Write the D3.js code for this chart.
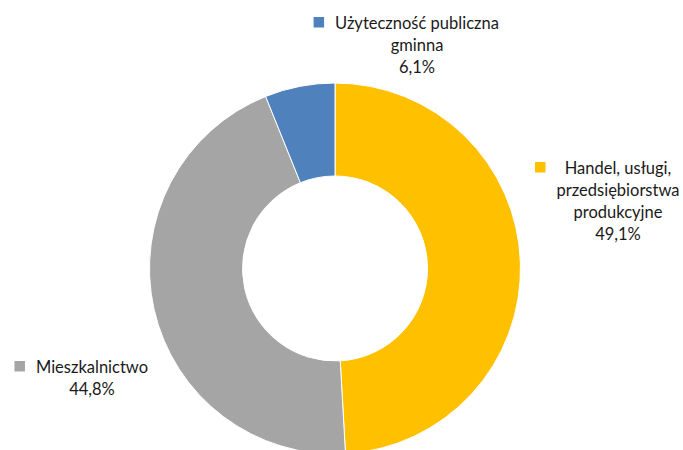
<!DOCTYPE html>
<html>
<head>
<meta charset="utf-8">
<script src="https://cdn.jsdelivr.net/npm/d3@7"></script>
<style>
  html, body { margin: 0; padding: 0; background: #fff; }
  svg { display: block; }
</style>
</head>
<body>
<svg id="chart"></svg>
<script>
// data
const categories = [
    ['Handel, usługi,', 'przedsiębiorstwa', 'produkcyjne'],
    ['Mieszkalnictwo'],
    ['Użyteczność publiczna', 'gminna']
];
const shares = [49.1, 44.8, 6.1];
const colors = ['#FFC000', '#A5A5A5', '#4F81BD'];

// where each label block sits (centre x, first baseline y)
const labelPos = [
    { x: 618, y: 174 },
    { x: 92, y: 373 },
    { x: 417, y: 29 }
];

const w = 683;
const h = 450;
const cx = 335, cy = 268.5;
const outerR = 185.5, innerR = 92.5;
const lineH = 22;
const fontSize = 16.5;

const svg = d3.select('#chart')
    .attr('width', w)
    .attr('height', h);

const pie = d3.pie()
    .sort(null)
    .value(d => d);

const arc = d3.arc()
    .innerRadius(innerR)
    .outerRadius(outerR);

const arcs = pie(shares);

svg.append('g')
    .attr('transform', `translate(${cx}, ${cy})`)
    .selectAll('path')
    .data(arcs)
    .join('path')
    .attr('d', arc)
    .attr('fill', (d, i) => colors[i])
    .attr('stroke', '#fff')
    .attr('stroke-width', 1);

const pl = d3.formatLocale({ decimal: ',', thousands: ' ', grouping: [3], currency: ['', ' zł'] });
const fmt = pl.format('.1f');

// labels
const labels = svg.append('g')
    .style('font-family', 'Lato, "Open Sans", sans-serif')
    .style('font-size', fontSize + 'px')
    .attr('fill', '#1a1a1a');

categories.forEach((lines, i) => {
    const g = labels.append('g');
    const all = lines.concat([fmt(shares[i]) + '%']);
    const t = g.append('text')
        .attr('text-anchor', 'middle');
    all.forEach((s, j) => {
        t.append('tspan')
            .attr('x', labelPos[i].x)
            .attr('y', labelPos[i].y + j * lineH)
            .text(s);
    });
    // legend key left of the widest line
    let maxW = 0;
    t.selectAll('tspan').each(function () {
        maxW = Math.max(maxW, this.getComputedTextLength());
    });
    const left = labelPos[i].x - maxW / 2;
    g.append('rect')
        .attr('x', left - 11 - 10.5)
        .attr('y', labelPos[i].y - 12)
        .attr('width', 10.5)
        .attr('height', 10.5)
        .attr('fill', colors[i]);
});
</script>
</body>
</html>
